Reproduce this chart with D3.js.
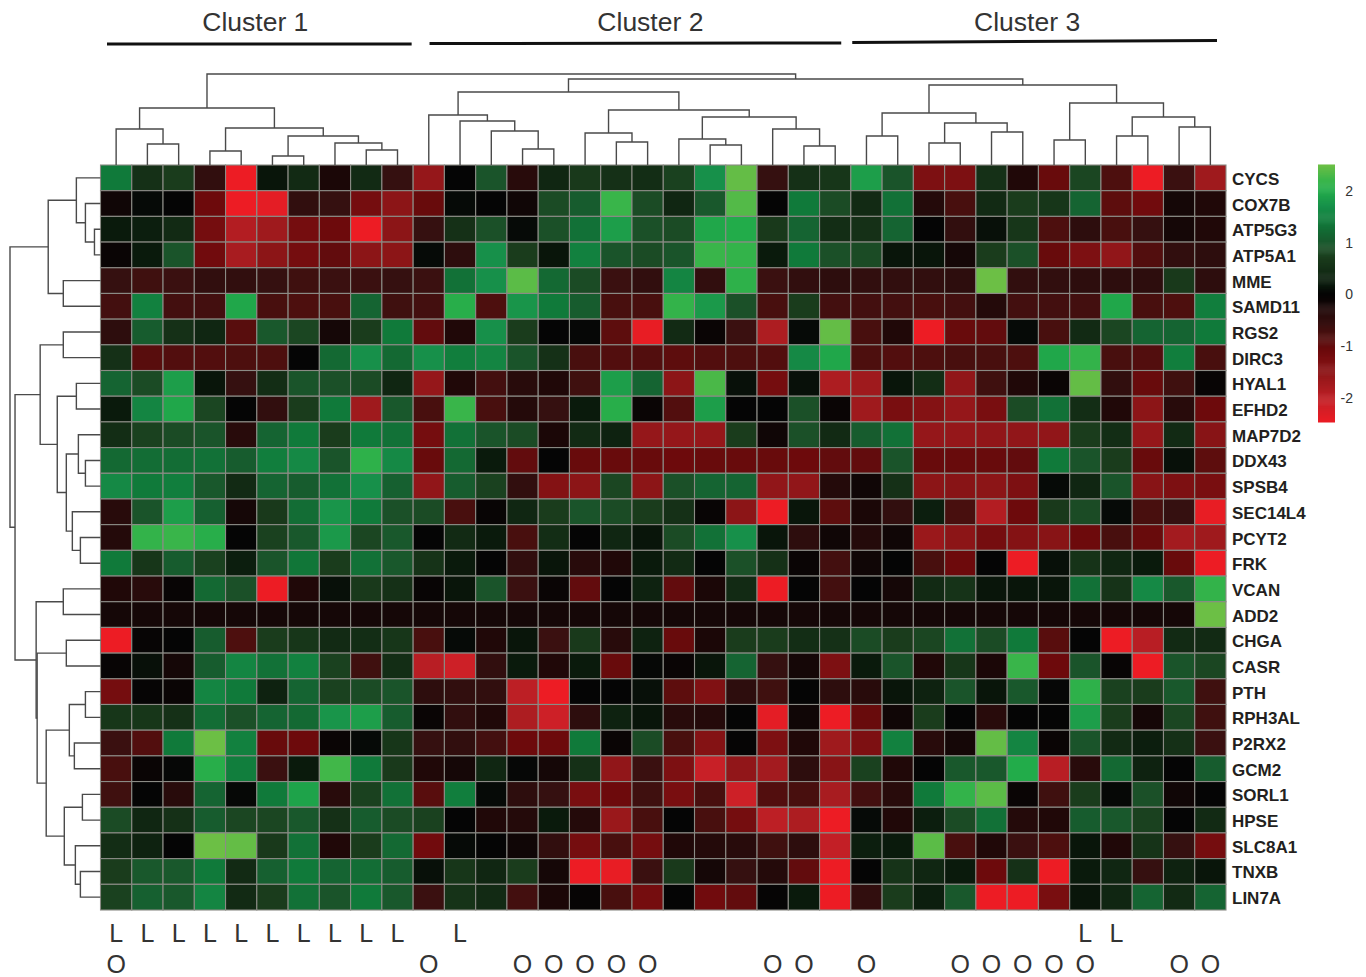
<!DOCTYPE html>
<html lang="en">
<head>
<title>Cluster heatmap</title>
<meta charset="utf-8">
<script src="https://d3js.org/d3.v7.min.js"></script>
<style type="text/css">
html, body { margin: 0; padding: 0; background: #fff; }
svg { display: block; }
text { font-family: "Liberation Sans", Arial, sans-serif; }
</style>
</head>
<body>
<div id="vis"></div>
<script>

/* Data */
/* ==== */

var genes = ['CYCS','COX7B','ATP5G3','ATP5A1','MME','SAMD11','RGS2','DIRC3','HYAL1','EFHD2','MAP7D2','DDX43','SPSB4','SEC14L4','PCYT2','FRK','VCAN','ADD2','CHGA','CASR','PTH','RPH3AL','P2RX2','GCM2','SORL1','HPSE','SLC8A1','TNXB','LIN7A'];

// one row per gene, 36 samples
var values = [
	[1.4,.5,.7,-.5,-2.5,.15,.4,-.25,.4,-.55,-1.6,0,.95,-.4,.35,.65,.5,.45,.75,1.7,2.45,-.55,.5,.6,1.85,.95,-1.3,-1.3,.5,-.3,-1.05,.8,-.8,-2.5,-.6,-1.7],
	[-.15,.05,0,-1.1,-2.5,-2.4,-.5,-.55,-1.2,-1.5,-1.05,.05,0,-.15,.85,1.05,2.2,.85,.35,1,2.35,0,1.4,.85,.4,1.3,-.35,-.75,.4,.7,.6,1.15,-.95,-1.15,-.2,-.3],
	[.2,.25,.4,-1.2,-1.9,-1.7,-1.2,-1.1,-2.5,-1.5,-.55,.5,.9,.05,.9,1.3,1.85,.9,.85,1.95,2,.65,1.15,.45,.5,1.15,0,-.5,.1,.6,-.8,-.45,-.75,-.55,-.2,-.3],
	[-.1,.2,.95,-1.15,-1.8,-1.5,-1.2,-1,-1.5,-1.5,.05,-.45,1.7,.7,.15,1.5,.95,.85,.95,2.2,2.15,.2,1.4,.9,.85,.15,.15,-.2,.7,.9,-1.05,-1.3,-1.55,-.85,-.5,-.45],
	[-.55,-.65,-.6,-.5,-.5,-.55,-.65,-.6,-.6,-.55,-.6,1.3,1.7,2.4,1.2,.85,-.6,-.5,1.55,-.5,2.1,-.6,-.5,-.45,-.5,-.5,-.5,-.45,2.5,-.5,-.5,-.45,-.45,-.45,.65,-.45],
	[-.7,1.5,-.7,-.7,1.95,-.75,-.8,-.75,1.15,-.65,-.7,2.05,-.8,1.75,1.4,1.05,-.75,-.75,2.15,1.8,.9,-.75,.7,-.7,-.7,-.7,-.75,-.7,-.35,-.7,-.7,-.7,1.95,-.75,-.8,1.45],
	[-.45,1.05,.5,.35,-.9,1,.8,-.2,.7,1.4,-1,-.3,1.7,.7,0,.02,-.95,-2.45,.4,-.1,-.6,-1.85,.05,2.45,-.75,-.3,-2.5,-1.05,-1,.05,-.75,.4,.8,1.15,1.15,1.4],
	[.5,-.9,-.85,-.85,-.8,-.8,0,1.2,1.7,1.2,1.7,1.45,1.55,.95,.5,-.75,-.85,-.85,-.95,-.85,-.8,-.85,1.6,1.95,-.8,-.85,-.8,-.75,-.75,-.8,1.95,2.15,-.75,-.85,1.45,-.75],
	[1.15,.85,1.85,.15,-.55,.45,.95,.9,.85,.35,-1.6,-.3,-.7,-.4,-.3,-.65,1.85,1.15,-1.5,2.3,.1,-1.2,.1,-1.85,-1.7,.15,.45,-1.55,-.65,-.3,-.1,2.45,-.5,-1.05,-.65,-.05],
	[.2,1.55,1.95,.8,0,-.5,.7,1.4,-1.7,1,-.75,2.2,-.75,-.35,-.55,.2,2.05,-.1,-.85,1.85,0,0,.9,-.1,-1.7,-1.25,-1.4,-1.6,-1.25,.85,1.3,.45,-.3,-1.5,-.4,-1.1],
	[.45,.75,.85,.95,-.4,1.15,1.4,.7,1.4,1.3,-1.2,1.3,.95,.85,-.25,.4,.3,-1.6,-1.6,-1.6,.7,-.15,.9,.4,1.05,1.3,-1.6,-1.6,-1.55,-1.55,-1.55,.7,.45,-1.6,.4,-1.45],
	[1.2,1.25,1.25,1.3,1.05,1.45,1.6,.95,2.1,1.6,-1.05,1.2,.2,-1,0,-1.05,-1.05,-1.05,-1.1,-1.05,-1.05,-1.05,-1.1,-1,-1,.95,-1.05,-1.05,-1.05,-1,1.4,.95,.7,-1.05,.1,-.95],
	[1.6,1.4,1.45,1,.4,1.15,1.05,1.3,1.7,1.1,-1.55,1.05,.75,-.5,-1.4,-1.5,.8,-1.5,.9,1.15,1.15,-1.55,-1.55,-.35,-.15,.5,-1.5,-1.45,-1.5,-1.3,.05,.35,.95,-1.45,-1.3,-1.25],
	[-.4,.95,1.85,1.1,-.2,.65,1.25,1.75,1.4,.9,.85,-.75,-.05,.35,.7,.95,.85,.7,.5,-.05,-1.5,-2.5,.15,-.95,-.25,-.5,.25,-.75,-1.9,-1.1,.65,.85,.05,-.75,-.55,-2.45],
	[-.35,2.15,2.2,2.05,0,.75,1,1.8,.8,1,0,.4,.2,-.75,.45,0,.35,.15,.85,1.3,1.7,.15,-.45,-.15,-.35,-.15,-1.65,-1.5,-1.2,-1.4,-1.45,-1.1,-.75,-1.05,-1.75,-1.7],
	[1.4,.6,1.05,.75,.25,.95,1.35,.7,1.3,1,.55,.2,0,-.5,.15,-.4,-.3,.2,.4,0,.9,.5,-.1,-.7,-.15,0,-.75,-1.1,0,-2.5,.1,.55,.35,.2,-1.05,-2.5],
	[-.3,-.4,-.05,1.2,.9,-2.5,-.3,.1,.65,.5,-.05,.15,.95,-.6,-.1,-1,0,.3,-1,-.25,.4,-2.5,0,-.7,0,-.2,.4,.55,.15,.15,.15,1.3,.55,1.6,1,2.15],
	[-.2,-.2,-.2,-.2,-.2,-.2,-.2,-.2,-.2,-.2,-.2,-.2,-.2,-.2,-.2,-.2,-.2,-.2,-.2,-.2,-.2,-.2,-.2,-.2,-.2,-.2,-.2,-.2,-.2,-.2,-.2,-.2,-.2,-.2,-.2,2.5],
	[-2.5,-.03,0,1.05,-.8,.7,.6,.4,.45,.6,-.75,.05,-.3,.15,-.6,.65,-.4,.3,-1.05,-.25,.7,.7,.45,.5,.85,.7,.8,1.3,.85,1.4,-.9,0,-2.5,-1.95,.4,.4],
	[-.05,.1,-.2,1.05,1.55,1.3,1.5,.75,-.65,.45,-1.95,-2.15,-.5,.2,-.3,.2,-1.05,.03,-.1,.15,1.15,-.55,-.2,-1.3,.2,.95,-.3,.6,-.25,2.2,-1.1,.95,-.05,-2.5,.95,.8],
	[-1.2,-.02,-.1,1.55,1.4,.3,1.15,.75,.85,.95,-.45,-.5,-.5,-2,-2.5,0,0,.1,-.95,-1.35,-.45,-.65,0,-.45,-.4,.15,.3,.95,.15,1,.02,2.1,.75,.7,1,-.65],
	[.6,.6,.5,1.25,.9,1.15,1.2,1.75,1.85,1.05,-.1,-.5,-.3,-1.85,-2.15,-.45,.3,.15,-.4,-.35,0,-2.4,-.15,-2.5,-1.05,-.15,.7,0,-.4,0,0,1.85,.7,-.2,.8,-.65],
	[-.6,-.85,1.4,2.5,1.5,-1.05,-1.1,-.1,.05,.6,-.55,-.5,-.7,-1.1,-1.1,1.4,-.1,.85,-.75,-1.4,-.02,-1.3,-.3,-1.7,-1.3,1.5,-.4,-.2,2.45,1.55,-.1,.95,.4,.25,.5,-.6],
	[-.75,-.1,.02,2.05,1.45,-.6,.2,2.25,1.4,.65,-.3,-.2,.35,.02,-.2,.5,-1.55,-.6,-1.3,-2.1,-1.55,-1.75,-.45,-1.45,.75,-.3,0,1,1,2,-1.95,-.4,1.2,.3,0,1.05],
	[-.65,0,-.4,1.15,.03,1.4,1.9,-.4,.75,1.3,-.9,1.45,.05,-.45,-.55,-1.25,-1.1,-.65,-1.25,-.75,-2.15,-.85,-.75,-1.8,-.7,-.4,1.4,2.15,2.4,-.1,-.65,.7,.03,.9,-.15,0],
	[.85,.35,.5,1.05,.8,.8,1,.5,1.05,.85,.75,0,-.3,-.35,.2,-.35,-1.65,-.75,0,-.75,-1.2,-2,-1.85,-2.5,.05,-.3,.25,.85,1.3,-.35,-.3,1.05,1,.75,0,.4],
	[.45,.3,0,2.5,2.45,.65,1.3,-.3,.7,1.2,-1.15,.05,0,-.15,-.5,-1.2,-.75,-1.2,-.3,-.35,-.4,-.65,-.45,-2.05,.25,.2,2.4,-.75,-.3,-.6,-.8,.15,-.3,.55,-.55,-1.2],
	[.7,1,1,1.4,.4,1.1,1.4,1.15,1.25,1.05,.1,.6,.35,.7,-.2,-2.5,-2.45,-.6,.65,-.2,-.55,-.35,-1,-2.5,0,.55,.35,.2,-1.1,.5,-2.5,.2,.35,-.55,.3,.15],
	[.75,1.1,1,1.55,.4,.7,1.3,.95,1.4,1,-.6,.55,.4,-.7,-.25,-.03,-.75,-1.2,0,-1.15,-1,-.02,.2,-2.5,-.5,.7,.25,1,-2.5,-2.5,-1.25,.15,.35,1.15,.4,1.15]
];

// colour key, as sampled from the colour bar
var colorValues = [-2.5,-2.1,-1.8,-1.5,-1.1,-.8,-.55,-.3,-.1,0,.2,.4,.7,.9,1.1,1.4,1.7,2,2.2,2.5];
var colorStops = ['#ed1c24','#c82027','#a81c20','#8c1517','#6d0a0c','#4d0f0e','#351010','#200808','#0a0505','#050505','#0a1a0c','#122a14','#1a3c1c','#1b5028','#166030','#107a3a','#17904a','#22ac4a','#39b54a','#6cbf45'];
var colorTicks = [2, 1, 0, -1, -2];

var clusterNames = ['Cluster 1', 'Cluster 2', 'Cluster 3'];
var clusterFirst = [0, 10, 24];
var clusterLast = [9, 23, 35];

var markL = [0,1,2,3,4,5,6,7,8,9,11,31,32];
var markO = [0,10,13,14,15,16,17,21,22,24,27,28,29,30,31,34,35];

// dendrograms: [merge distance, left, right], a plain number is a leaf
var sampleTree = [91,
	[57, [36, 0, [21, 1, 2]],
		[37, [14, 3, 4], [29, [9, 5, 6], [22, 7, [15, 8, 9]]]]],
	[86,
		[73,
			[50, 10, [44, 11, [34, 12, [16, 13, 14]]]],
			[55, [32, 15, [23, 16, 17]],
				[48, [26, 18, [20, 19, 20]], [36, 21, [19, 22, 23]]]]],
		[80,
			[52, [29, 24, 25], [42, [22, 26, 27], [33, 28, 29]]],
			[62, [25, 30, 31], [48, [29, 32, 33], [38, 34, 35]]]]]
];

var geneTree = [90,
	[52, [24, 0, [15, 1, [6, 2, 3]]], [37, 4, 5]],
	[85,
		[60, [37, 6, 7],
			[43, [24, 8, 9],
				[34, [22, 10, [15, 11, 12]], [28, 13, [20, 14, 15]]]]],
		[64, [37, 16, 17],
			[63, [34, 18, 19],
				[54, [31, [15, 20, 21], [26, 22, 23]],
					[36, [18, 24, 25], [25, 26, [20, 27, 28]]]]]]]
];


/* Globals and SVG */
/* =============== */

var width = 1366, height = 977;
var grid = { left: 100.5, right: 1226, top: 165, bottom: 910 };

var svg = d3.select('#vis')
	.append('svg')
		.attr('width', width)
		.attr('height', height);

var x = d3.scaleBand()
	.domain(d3.range(values[0].length))
	.range([grid.left, grid.right]);

var y = d3.scaleBand()
	.domain(d3.range(genes.length))
	.range([grid.top, grid.bottom]);

var color = d3.scaleLinear()
	.domain(colorValues)
	.range(colorStops)
	.clamp(true);


/* Functions */
/* ========= */

function drawHeatmap() {

	var cells = [];
	values.forEach(function(row, r) {
		row.forEach(function(v, c) { cells.push({ r: r, c: c, v: v }); });
	});

	svg.append('g')
		.selectAll('rect')
		.data(cells)
		.enter().append('rect')
			.attr('x', function(d) { return x(d.c); })
			.attr('y', function(d) { return y(d.r); })
			.attr('width', x.bandwidth())
			.attr('height', y.bandwidth())
			.attr('fill', function(d) { return color(d.v); })
			.attr('stroke', '#8b8b85')
			.attr('stroke-width', 1.1);

} // drawHeatmap()

function drawRowLabels() {

	svg.append('g')
		.selectAll('text')
		.data(genes)
		.enter().append('text')
			.attr('x', grid.right + 6)
			.attr('y', function(d, i) { return y(i) + y.bandwidth() / 2 + 7; })
			.attr('font-size', 17)
			.attr('font-weight', 'bold')
			.attr('fill', '#231f20')
			.text(function(d) { return d; });

} // drawRowLabels()

// walks the tree, returns the leaf-side position of the node and adds its segments
function layoutTree(node, pos, segs) {

	if (typeof node === 'number') return { at: pos(node), d: 0 };

	var a = layoutTree(node[1], pos, segs);
	var b = layoutTree(node[2], pos, segs);

	segs.push({ a: a.at, b: b.at, da: a.d, db: b.d, d: node[0] });

	return { at: (a.at + b.at) / 2, d: node[0] };

} // layoutTree()

function drawTree(tree, pos, dist, vertical) {

	var segs = [];
	layoutTree(tree, pos, segs);

	svg.append('g')
		.attr('fill', 'none')
		.attr('stroke', '#4a4a4a')
		.attr('stroke-width', 1.4)
		.selectAll('path')
		.data(segs)
		.enter().append('path')
			.attr('d', function(s) {
				var p = d3.path();
				if (vertical) {
					p.moveTo(s.a, dist(s.da));
					p.lineTo(s.a, dist(s.d));
					p.lineTo(s.b, dist(s.d));
					p.lineTo(s.b, dist(s.db));
				} else {
					p.moveTo(dist(s.da), s.a);
					p.lineTo(dist(s.d), s.a);
					p.lineTo(dist(s.d), s.b);
					p.lineTo(dist(s.db), s.b);
				}
				return p.toString();
			});

} // drawTree()

function drawClusters() {

	// the bars were drawn by hand, they do not quite follow the columns
	var insetLeft = [6.5, 16.4, 1.4];
	var insetRight = [-1.5, -9.6, -9];
	var labelShift = [-4, 15, -7.5];
	var barY0 = [44, 43.5, 42.5];
	var barY1 = [44, 43, 40.5];

	var g = svg.append('g');

	clusterNames.forEach(function(name, i) {

		var x0 = x(clusterFirst[i]) + insetLeft[i],
			x1 = x(clusterLast[i]) + x.bandwidth() + insetRight[i];

		g.append('line')
			.attr('x1', x0)
			.attr('x2', x1)
			.attr('y1', barY0[i])
			.attr('y2', barY1[i])
			.attr('stroke', '#111')
			.attr('stroke-width', 3);

		g.append('text')
			.attr('x', (x0 + x1) / 2 + labelShift[i])
			.attr('y', 31)
			.attr('text-anchor', 'middle')
			.attr('font-size', 26.5)
			.attr('fill', '#333')
			.text(name);

	});

} // drawClusters()

function drawMarks(list, letter, baseline) {

	svg.append('g')
		.selectAll('text')
		.data(list)
		.enter().append('text')
			.attr('x', function(d) { return x(d) + x.bandwidth() / 2; })
			.attr('y', baseline)
			.attr('text-anchor', 'middle')
			.attr('font-size', 25)
			.attr('fill', '#333')
			.text(letter);

} // drawMarks()

function drawColorKey() {

	var keyY = d3.scaleLinear()
		.domain([-2.47, 2.5])
		.range([422, 165]);

	var steps = d3.range(-2.47, 2.5, 0.02);

	svg.append('g')
		.selectAll('rect')
		.data(steps)
		.enter().append('rect')
			.attr('x', 1318)
			.attr('y', function(d) { return keyY(d + 0.02); })
			.attr('width', 17)
			.attr('height', function(d) { return keyY(d) - keyY(d + 0.02) + 0.5; })
			.attr('fill', function(d) { return color(d); });

	var axis = svg.append('g')
		.attr('transform', 'translate(1353,0)')
		.call(d3.axisRight(keyY).tickValues(colorTicks).tickSize(0).tickFormat(d3.format('d')));

	axis.select('.domain').remove();
	axis.selectAll('text')
		.attr('x', 0)
		.attr('text-anchor', 'end')
		.attr('font-family', '"Liberation Sans", Arial, sans-serif')
		.attr('font-size', 14)
		.attr('fill', '#333')
		.text(function(d) { return d; });

} // drawColorKey()


/* Build */
/* ===== */

drawHeatmap();
drawRowLabels();

drawTree(sampleTree, function(c) { return x(c) + x.bandwidth() / 2; },
	d3.scaleLinear().domain([0, 91]).range([grid.top, 74]), true);

drawTree(geneTree, function(r) { return y(r) + y.bandwidth() / 2; },
	d3.scaleLinear().domain([0, 90]).range([grid.left, 10]), false);

drawClusters();
drawMarks(markL, 'L', 942);
drawMarks(markO, 'O', 973);
drawColorKey();

</script>
</body>
</html>
